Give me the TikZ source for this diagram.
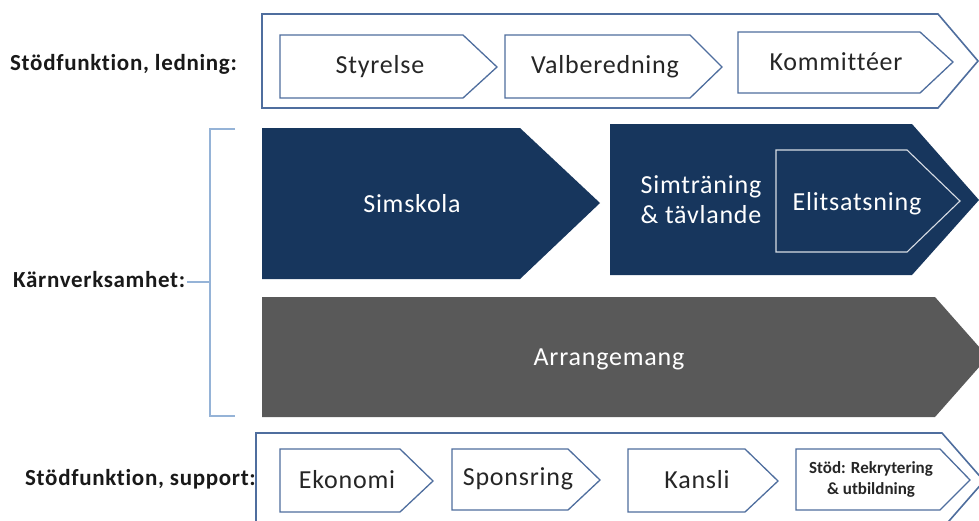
\documentclass[tikz,border=0pt]{standalone}
\usepackage{fontspec}
\setmainfont{Carlito}[Ligatures=NoCommon]

\definecolor{edgeblue}{RGB}{79,110,158}
\definecolor{navyfill}{RGB}{23,54,93}
\definecolor{arrgray}{RGB}{89,89,89}
\definecolor{bracketblue}{RGB}{149,179,215}
\definecolor{elitline}{RGB}{215,220,228}

\tikzset{
  outerchev/.style={draw=edgeblue, line width=1.6pt, fill=white},
  stepchev/.style={draw=edgeblue, line width=1.3pt, fill=white},
  corechev/.style={fill=navyfill},
  chevtxt/.style={font=\fontsize{26}{30}\selectfont\addfontfeature{LetterSpace=3}, text=black!85, anchor=base, inner sep=0pt, align=center},
  whitetxt/.style={chevtxt, text=white},
  smalltxt/.style={chevtxt, font=\bfseries\fontsize{17}{21}\selectfont},
  lbl/.style={font=\bfseries\fontsize{23}{27}\selectfont\addfontfeature{LetterSpace=3}, text=black!90, anchor=base west, inner sep=0pt},
}

\begin{document}
\begin{tikzpicture}[x=1pt, y=-1pt]
      \useasboundingbox (0,0) rectangle (979,520);

      % stodfunktion, ledning
      \draw[outerchev] (262,14) -- (938,14) -- (978,61) -- (938,108) -- (262,108) -- cycle;
      \draw[stepchev] (280,35) -- (463,35) -- (497,67) -- (463,98) -- (280,98) -- cycle;
      \draw[stepchev] (505,35) -- (690,35) -- (722,67) -- (690,98) -- (505,98) -- cycle;
      \draw[stepchev] (738,32) -- (920,32) -- (953,62) -- (920,93) -- (738,93) -- cycle;
      \node[chevtxt] (styrelse) at (380,73) {Styrelse};
      \node[chevtxt] (valber) at (605,73) {Valberedning};
      \node[chevtxt] (kommit) at (836,70) {Kommittéer};
      \node[lbl] (ledning) at (10,70) {Stödfunktion, ledning:};

      % karnverksamhet
      \fill[corechev] (262,128) -- (520,128) -- (600,203) -- (520,279) -- (262,279) -- cycle;
      \fill[corechev] (610,124) -- (912,124) -- (979,200) -- (912,275) -- (610,275) -- cycle;
      \draw[draw=elitline, line width=1.1pt] (776,150) -- (907,150) -- (960,201) -- (907,252) -- (776,252) -- cycle;
      \fill[arrgray] (262,297) -- (935,297) -- (988,357) -- (935,417) -- (262,417) -- cycle;
      \node[whitetxt] (simskola) at (412,212) {Simskola};
      \node[whitetxt] (simtr) at (701,223) {Simträning\\\& tävlande};
      \node[whitetxt] (elit) at (857,210) {Elitsatsning};
      \node[whitetxt] (arr) at (609,365) {Arrangemang};
      \node[lbl] (karn) at (13,287) {Kärnverksamhet:};
      \coordinate (brmid) at (210,282);
      \draw[bracketblue, line width=1.8pt] (235,129) -- (210,129) -- (210,416) -- (235,416);
      \draw[bracketblue, line width=1.8pt] (karn.east |- brmid) ++(2,0) -- (brmid);

      % stodfunktion, support
      \draw[outerchev] (256,433) -- (942,433) -- (984,481) -- (942,529) -- (256,529) -- cycle;
      \draw[stepchev] (280,449) -- (400,449) -- (433,481) -- (400,512) -- (280,512) -- cycle;
      \draw[stepchev] (452,449) -- (568,449) -- (600,480) -- (568,510) -- (452,510) -- cycle;
      \draw[stepchev] (628,449) -- (745,449) -- (778,481) -- (745,512) -- (628,512) -- cycle;
      \draw[stepchev] (796,449) -- (940,449) -- (970,480) -- (940,510) -- (796,510) -- cycle;
      \node[chevtxt] (ekonomi) at (347,488) {Ekonomi};
      \node[chevtxt] (sponsring) at (518,485) {Sponsring};
      \node[chevtxt] (kansli) at (697,488) {Kansli};
      \node[smalltxt] (rekr) at (871,494) {Stöd: Rekrytering\\\& utbildning};
      \node[lbl] (support) at (25,485) {Stödfunktion, support:};
\end{tikzpicture}
\end{document}
